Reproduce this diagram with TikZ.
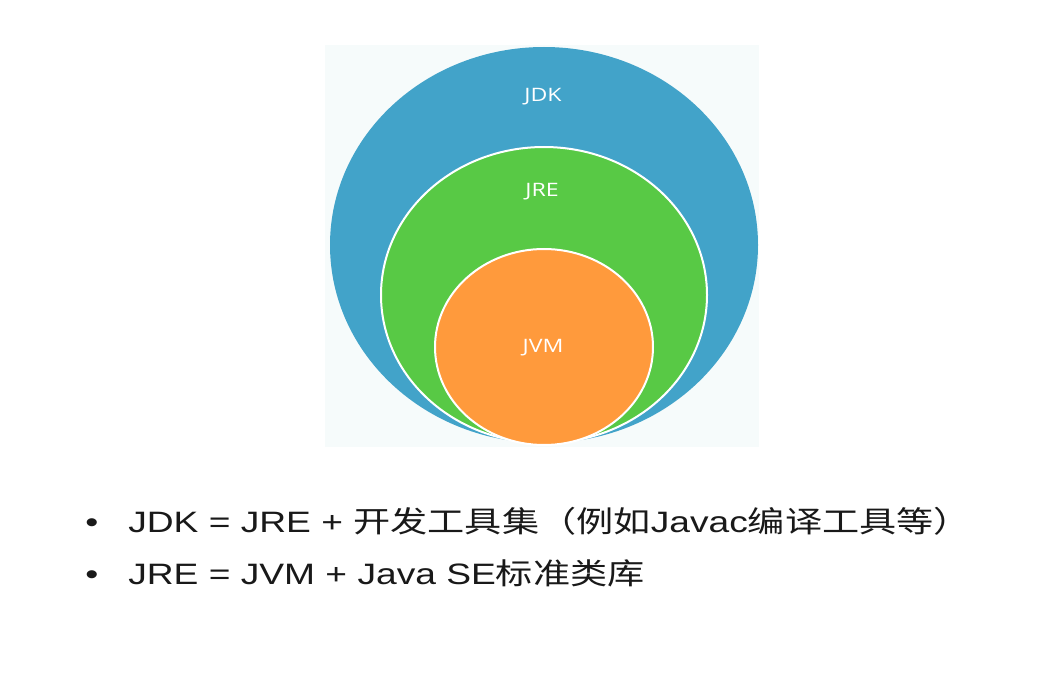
\documentclass[tikz,border=0pt]{standalone}
\usepackage{fontspec}
\setmainfont{Liberation Sans}
\newfontfamily\cjk{Noto Sans CJK SC}
\newfontfamily\lbl{Open Sans}
\definecolor{jdkblue}{RGB}{66,163,201}
\definecolor{jregreen}{RGB}{88,201,69}
\definecolor{jvmorange}{RGB}{255,154,60}
\definecolor{panel}{RGB}{246,251,251}
\definecolor{ink}{RGB}{25,25,25}
\begin{document}
\begin{tikzpicture}[x=1pt,y=-1pt,
  ring/.style={draw=white,line width=2pt},
  lab/.style={font=\lbl\fontsize{18.5}{20}\selectfont, text=white, xscale=1.25, inner sep=0pt},
  textline/.style={anchor=base west, inner sep=0pt, font=\fontsize{29.5}{32}\selectfont, xscale=1.26, text=ink},
  bullet/.style={anchor=base, inner sep=0pt, font=\fontsize{29.5}{32}\selectfont, xscale=1.26, text=ink}
]
\useasboundingbox (0,0) rectangle (1042,695);
\fill[white] (0,0) rectangle (1042,695);
\fill[panel] (325,45) rectangle (759,447);
\begin{scope}
  \clip (325,45) rectangle (759,447);
  \fill[jdkblue] (544,245) ellipse [x radius=214, y radius=198];
  \filldraw[fill=jregreen, ring] (544,295) ellipse [x radius=163, y radius=148];
  \filldraw[fill=jvmorange, ring] (544,347) ellipse [x radius=109, y radius=98];
\end{scope}
\node[lab] (jdk) at (543,97) {JDK};
\node[lab] (jre) at (542,192) {JRE};
\node[lab] (jvm) at (543,348) {JVM};

\node[bullet] (b1) at (92,532) {•};
\node[textline] (l1) at (128,532) {JDK = JRE + {\cjk 开发工具集（例如}Javac{\cjk 编译工具等）}};
\node[bullet] (b2) at (92,584) {•};
\node[textline] (l2) at (128,584) {JRE = JVM + Java SE{\cjk 标准类库}};
\end{tikzpicture}
\end{document}
